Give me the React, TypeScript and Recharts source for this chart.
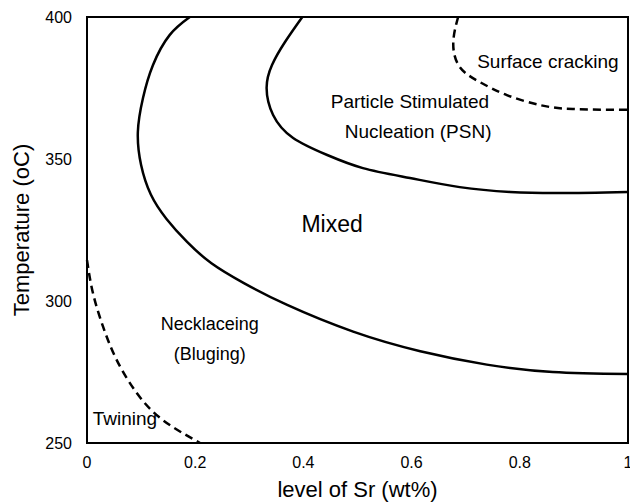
import { LineChart, Line, XAxis, YAxis, ReferenceArea, ReferenceDot, Label } from "recharts";

// level of Sr (wt%) vs temperature (oC), boundaries
const outerV = [0.19, 0.153, 0.122, 0.1035, 0.094, 0.1, 0.118, 0.147, 0.185, 0.23, 0.29, 0.37, 0.492, 0.616, 0.739, 0.861, 1.0];
const outerT = [400, 393.7, 383.1, 371.5, 359.5, 347.9, 337.5, 328.9, 320.8, 313.3, 306.3, 298.6, 289.2, 282.3, 277.6, 275.0, 274.3];

const psnV = [0.398, 0.366, 0.342, 0.332, 0.344, 0.381, 0.444, 0.51, 0.597, 0.689, 0.782, 0.874, 1.0];
const psnT = [400, 391.2, 383.1, 375, 365.5, 357.4, 351.4, 346.8, 343.3, 340.1, 338.4, 338.0, 338.4];

const crackV = [0.686, 0.677, 0.689, 0.726, 0.776, 0.837, 0.898, 1.0];
const crackT = [400, 390.8, 382.4, 377.1, 372.5, 369, 367.6, 367.3];

const twinV = [0, 0.011, 0.03, 0.055, 0.092, 0.14, 0.209];
const twinT = [314.4, 302.8, 290.8, 279.2, 267.6, 258.1, 250];

const xTicks = [0, 0.2, 0.4, 0.6, 0.8, 1];
const yTicks = [250, 300, 350, 400];

const regionNames = ["Surface cracking", "Particle Stimulated", "Nucleation (PSN)", "Mixed", "Necklaceing", "(Bluging)", "Twining"];
const regionV = [0.852, 0.597, 0.612, 0.453, 0.227, 0.227, 0.07];
const regionT = [384.3, 370.4, 359.9, 327.1, 291.9, 281.3, 258.8];
const regionSize = [19, 19, 19, 23, 18, 18, 19];

const toRows = (v: number[], t: number[]) => v.map((x, i) => ({ v: x, t: t[i] }));

const font = "'Liberation Sans', Arial, Helvetica, sans-serif";

export default function App() {
  return (
    <div style={{ position: "absolute", left: 0, top: 0, background: "#fff", fontFamily: font }}>
      <LineChart width={630} height={502} margin={{ top: 17, right: 2, bottom: 0, left: 0 }}>
        <XAxis
          type="number"
          dataKey="v"
          domain={[0, 1]}
          ticks={xTicks}
          interval={0}
          axisLine={false}
          tickLine={false}
          tickSize={0}
          tickMargin={14}
          height={59}
          tick={{ fill: "#000", fontSize: 16, fontFamily: font }}
        >
          <Label
            content={({ viewBox }: any) => (
              <text x={viewBox.x + viewBox.width / 2} y={497} textAnchor="middle" fontSize={22} fontFamily={font} fill="#000">
                level of Sr (wt%)
              </text>
            )}
          />
        </XAxis>
        <YAxis
          type="number"
          domain={[250, 400]}
          ticks={yTicks}
          interval={0}
          axisLine={false}
          tickLine={false}
          tickSize={0}
          tickMargin={15}
          width={87}
          tick={{ fill: "#000", fontSize: 16, fontFamily: font }}
        >
          <Label
            content={({ viewBox }: any) => {
              const cy = viewBox.y + viewBox.height / 2;
              return (
                <text x={29} y={cy} transform={`rotate(-90 29 ${cy})`} textAnchor="middle" fontSize={22} fontFamily={font} fill="#000">
                  Temperature (oC)
                </text>
              );
            }}
          />
        </YAxis>
        <ReferenceArea x1={0} x2={1} y1={250} y2={400} fill="none" stroke="#000" strokeWidth={2} ifOverflow="visible" />
        <Line data={toRows(outerV, outerT)} dataKey="t" type="natural" stroke="#000" strokeWidth={2.5} dot={false} isAnimationActive={false} />
        <Line data={toRows(psnV, psnT)} dataKey="t" type="natural" stroke="#000" strokeWidth={2.5} dot={false} isAnimationActive={false} />
        <Line data={toRows(crackV, crackT)} dataKey="t" type="natural" stroke="#000" strokeWidth={2.5} strokeDasharray="8 5" dot={false} isAnimationActive={false} />
        <Line data={toRows(twinV, twinT)} dataKey="t" type="natural" stroke="#000" strokeWidth={2.5} strokeDasharray="8 5" dot={false} isAnimationActive={false} />
        {regionNames.map((name, i) => (
          <ReferenceDot
            key={name}
            x={regionV[i]}
            y={regionT[i]}
            r={0}
            fill="none"
            stroke="none"
            label={{ value: name, position: "center", fontSize: regionSize[i], fontFamily: font, fill: "#000" }}
          />
        ))}
      </LineChart>
    </div>
  );
}
